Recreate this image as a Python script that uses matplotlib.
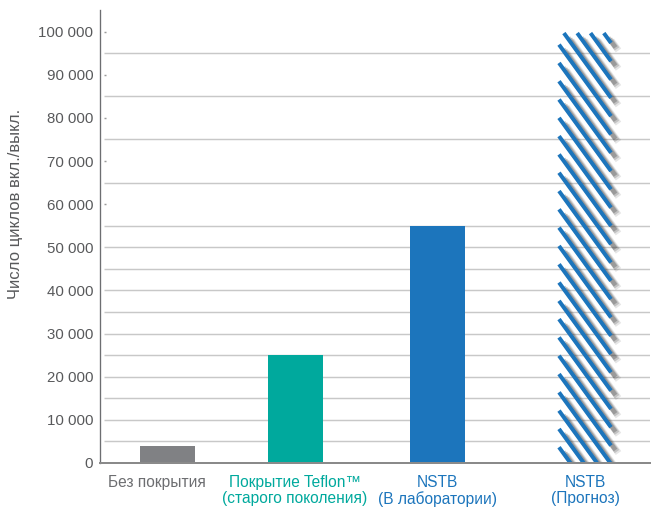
import numpy as np
import matplotlib
matplotlib.use('Agg')
import matplotlib.pyplot as plt
import matplotlib.transforms as mtransforms
from matplotlib.collections import LineCollection

categories = ['Без покрытия', 'Покрытие Teflon™\n(старого поколения)',
              'NSTB\n(В лаборатории)', 'NSTB\n(Прогноз)']
values = [4000, 25000, 55000, 100000]
y_ticks = [0, 10000, 20000, 30000, 40000, 50000, 60000, 70000, 80000, 90000, 100000]
grid_levels = [5000, 10000, 15000, 20000, 25000, 30000, 35000, 40000, 45000, 50000,
               55000, 65000, 75000, 85000, 95000]
stub_levels = [60000, 70000, 80000, 90000, 100000]

bar_colors = ['#808184', '#00a99d', '#1c75bc', '#1c75bc']
label_colors = ['#6d6e71', '#00a99d', '#1c75bc', '#1c75bc']
x_pos = [67, 195, 337, 485]

plt.rcParams['font.family'] = ['Liberation Sans', 'DejaVu Sans']

DPI = 80
fig = plt.figure(figsize=(653 / DPI, 508 / DPI), dpi=DPI)
ax = fig.add_axes([100 / 653, 45 / 508, 550 / 653, 453 / 508])
ax.set_xlim(0, 550)
ax.set_ylim(0, 105000)

ax.hlines(grid_levels, 4, 550, color='#c8c8c8', lw=1.3, zorder=1)
ax.hlines(stub_levels, 4, 6.5, color='#9a9a9a', lw=1.3, zorder=1)

# solid bars
ax.bar(x_pos[:3], values[:3], width=55, color=bar_colors[:3], zorder=3)

# forecast bar: empty box filled with steep stripes + soft shadow
fc = ax.bar(x_pos[3], values[3], width=55, color='none', linewidth=0, zorder=3)
bb = fc[0].get_window_extent()
x0, x1, y0, y1 = bb.x0, bb.x1, bb.y0, bb.y1
slope, step = 1.375, 18.3
b_start = (y1 - 11) + slope * x0
bs = np.concatenate([np.arange(b_start, y0 + slope * x0 - step, -step),
                     np.arange(b_start + step, y1 + slope * x1 + step, step)])
segs = []
for b in bs:
    xa = max(x0 + 1.5, (b - y1 + 1.5) / slope)
    xb = min(x1 - 1.5, (b - y0) / slope)
    if xb > xa:
        segs.append([(xa, b - slope * xa), (xb, b - slope * xb)])
segs = np.array(segs)

for off, lw, a in [(7.5, 6, 0.12), (6, 5, 0.2), (4.5, 4, 0.28)]:
    sh = segs + np.array([off, -off])
    ax.add_collection(LineCollection(sh, colors='#333333', linewidths=lw, alpha=a,
                                     capstyle='butt', transform=None, zorder=2))
ax.add_collection(LineCollection(segs, colors=bar_colors[3], linewidths=3.6,
                                 capstyle='butt', transform=None, zorder=3))

for s in ['top', 'right']:
    ax.spines[s].set_visible(False)
ax.spines['left'].set_color('#6d6e71')
ax.spines['left'].set_linewidth(1.2)
ax.spines['bottom'].set_color('#8a8a8a')
ax.spines['bottom'].set_linewidth(1.8)
ax.spines['bottom'].set_zorder(4)

ax.set_yticks(y_ticks, [f'{v:,}'.replace(',', ' ') for v in y_ticks])
ax.tick_params(axis='y', length=0, pad=6, labelsize=13.5, labelcolor='#58595b')
ax.set_xticks(x_pos, categories)
ax.tick_params(axis='x', length=0, pad=11, labelsize=14)
for lbl, c in zip(ax.get_xticklabels(), label_colors):
    lbl.set_color(c)
    lbl.set_linespacing(1.05)
# first label sits a little left of its bar in the original
first = ax.get_xticklabels()[0]
first.set_transform(first.get_transform() +
                    mtransforms.ScaledTranslation(-10 / DPI, 0, fig.dpi_scale_trans))

fig.text(16 / 653, 1 - 204 / 508, 'Число циклов вкл./выкл.', rotation=90,
         ha='center', va='center', fontsize=15, color='#58595b')

fig.savefig('out.png', dpi=DPI)
